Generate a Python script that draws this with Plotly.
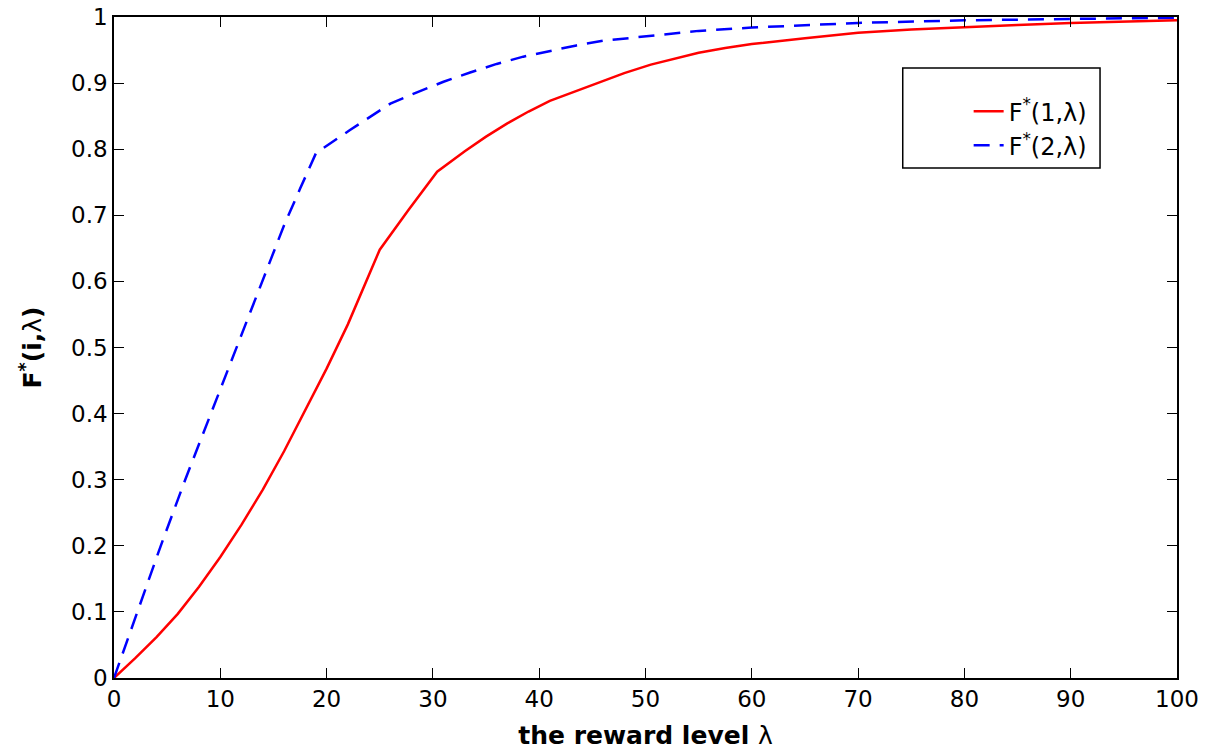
import plotly.graph_objects as go

# F*(1, lambda)
red_x = [0, 2, 4, 6, 8, 10, 12, 14, 16, 18, 20, 22, 25, 27.7, 30.4, 33, 35, 37, 39, 41, 43.5, 46, 48,
         50.5, 53, 55, 57.5, 60, 65, 70, 75, 80, 85, 90, 95, 100]
red_y = [0, 0.03, 0.062, 0.097, 0.138, 0.183, 0.232, 0.285, 0.343, 0.405, 0.468, 0.535, 0.648, 0.708, 0.766,
         0.797, 0.819, 0.839, 0.857, 0.873, 0.888, 0.903, 0.915, 0.928, 0.938, 0.946, 0.953, 0.959,
         0.968, 0.976, 0.981, 0.985, 0.988, 0.991, 0.993, 0.995]

# F*(2, lambda)
blue_x = [0, 2.2, 4.4, 6.7, 9.1, 11.5, 13.8, 16, 17.5, 19, 22.2, 26, 28.5, 31, 33.5, 36, 38.5, 41, 43.5,
          46, 50.5, 55, 60, 65, 70, 80, 90, 100]
blue_y = [0, 0.1, 0.2, 0.3, 0.4, 0.5, 0.595, 0.685, 0.74, 0.794, 0.829, 0.869, 0.886, 0.902, 0.916, 0.929,
          0.94, 0.949, 0.957, 0.964, 0.972, 0.979, 0.984, 0.988, 0.991, 0.995, 0.997, 0.999]

x_ticks = [0, 10, 20, 30, 40, 50, 60, 70, 80, 90, 100]
y_ticks = [0, 0.1, 0.2, 0.3, 0.4, 0.5, 0.6, 0.7, 0.8, 0.9, 1]
y_tick_labels = ["0", "0.1", "0.2", "0.3", "0.4", "0.5", "0.6", "0.7", "0.8", "0.9", "1"]

FONT = "DejaVu Sans, Liberation Sans, Arial, sans-serif"
LAM = "<span style='font-weight:normal'>λ</span>"

fig = go.Figure()
fig.add_trace(go.Scatter(x=red_x, y=red_y, mode="lines", name="F<sup>*</sup>(1,λ)",
                         line=dict(color="#ff0000", width=2.5)))
fig.add_trace(go.Scatter(x=blue_x, y=blue_y, mode="lines", name="F<sup>*</sup>(2,λ)",
                         line=dict(color="#0000ff", width=2.5, dash="16px,10px")))

axis_common = dict(showgrid=False, zeroline=False, showline=True, linecolor="black", linewidth=1.5,
                   mirror="ticks", ticks="inside", ticklen=10, tickwidth=1.2, tickcolor="black",
                   automargin=False,
                   tickfont=dict(family=FONT, size=23, color="black"))

fig.update_xaxes(range=[0, 100], tickvals=x_ticks, ticktext=[str(v) for v in x_ticks],
                 title=dict(text="<b>the reward level " + LAM + "</b>",
                            font=dict(family=FONT, size=25, color="black"), standoff=15),
                 **axis_common)
fig.update_yaxes(range=[0, 1], tickvals=y_ticks, ticktext=y_tick_labels,
                 title=dict(text="<b>F<sup>*</sup>(i," + LAM + ")</b>",
                            font=dict(family=FONT, size=25, color="black"), standoff=22),
                 **axis_common)

# legend frame (paper coordinates)
fig.add_shape(type="rect", xref="paper", yref="paper", x0=0.742, x1=0.9276, y0=0.7716, y1=0.923,
              line=dict(color="black", width=1.5), fillcolor="white", layer="below")

fig.update_layout(
    width=1205, height=756,
    paper_bgcolor="white", plot_bgcolor="white",
    margin=dict(l=114, r=28, t=17, b=78, autoexpand=False),
    showlegend=True,
    legend=dict(x=0.804, y=0.891, xanchor="left", yanchor="top",
                bgcolor="rgba(0,0,0,0)", borderwidth=0,
                font=dict(family=FONT, size=24, color="black")),
)

fig.write_html("out.html", config={"displayModeBar": False},
               post_script="document.body.style.margin='0';document.body.style.overflow='hidden';")
